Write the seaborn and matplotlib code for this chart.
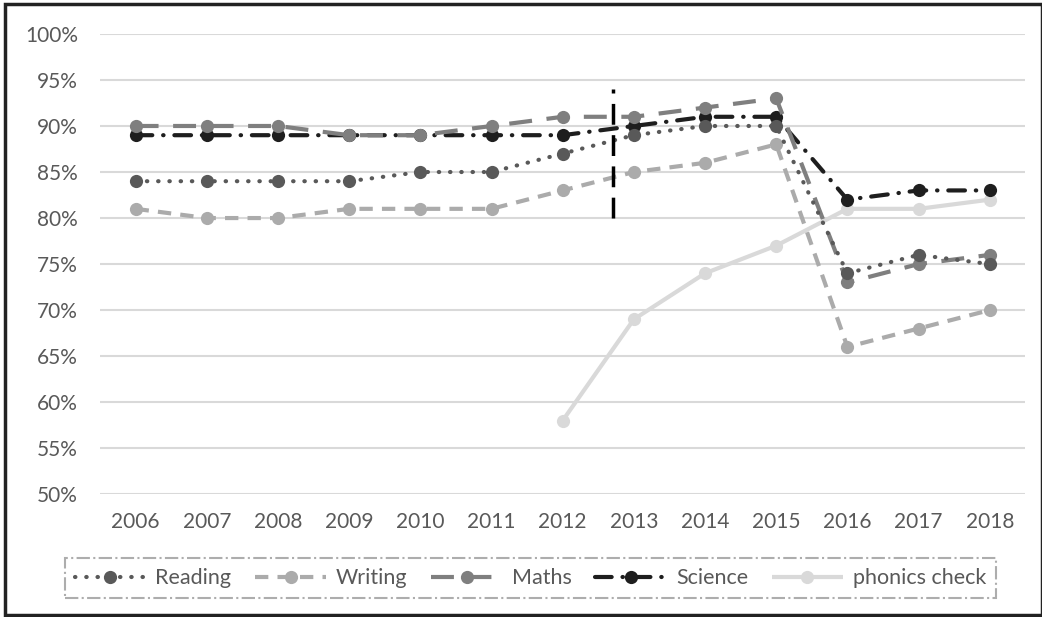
import matplotlib
matplotlib.use("Agg")
import matplotlib.pyplot as plt
import matplotlib.patches as mpatches
from matplotlib.ticker import FuncFormatter
import seaborn as sns
import numpy as np
import pandas as pd

years = [2006, 2007, 2008, 2009, 2010, 2011, 2012, 2013, 2014, 2015, 2016, 2017, 2018]
reading = [84, 84, 84, 84, 85, 85, 87, 89, 90, 90, 74, 76, 75]
writing = [81, 80, 80, 81, 81, 81, 83, 85, 86, 88, 66, 68, 70]
maths = [90, 90, 90, 89, 89, 90, 91, 91, 92, 93, 73, 75, 76]
science = [89, 89, 89, 89, 89, 89, 89, 90, 91, 91, 82, 83, 83]
phonics = [np.nan] * 6 + [58, 69, 74, 77, 81, 81, 82]

# marker for the change of curriculum, drawn between 2012 and 2013
divider_x = 2012.7
divider_low, divider_high = 80, 94

sns.set_style("white")
plt.rcParams['font.family'] = ['Lato', 'DejaVu Sans']

fig = plt.figure(figsize=(10.42, 6.17), dpi=100)
ax = fig.add_axes([0.096, 0.199, 0.888, 0.746])

series = [
    ("Reading", reading, "#595959", (0.1, 2.6), "round"),
    ("Writing", writing, "#ababab", (3.2, 2.2), "butt"),
    ("Maths", maths, "#7f7f7f", (5.5, 3.5), "butt"),
    ("Science", science, "#1e1e1e", (4, 2.6, 0.1, 2.6), "round"),
    ("phonics check", phonics, "#d9d9d9", None, "butt"),
]

# draw in reverse so reading/writing sit on top like the original
for name, vals, col, dash, cap in reversed(series):
    df = pd.DataFrame({"year": years, "value": vals})
    sns.lineplot(data=df, x="year", y="value", ax=ax, color=col,
                 linewidth=3, marker="o", markersize=9.5,
                 markeredgewidth=0, label=name)
    l = ax.get_lines()[-1]
    if dash is not None:
        l.set_dashes(dash)
    l.set_dash_capstyle(cap)
    l.set_solid_capstyle("butt")

ax.vlines(divider_x, divider_low, divider_high, colors="black",
          linewidth=2.5, linestyles=(0, (6, 3)))

ax.set_xlim(2005.5, 2018.5)
ax.set_ylim(50, 100)
ax.set_xticks(years)
ax.set_xticklabels([str(y) for y in years])
ax.set_yticks(range(50, 101, 5))
ax.yaxis.set_major_formatter(FuncFormatter(lambda v, p: f"{int(v)}%"))
ax.grid(axis="y", color="#d9d9d9", linewidth=1.5)
ax.set_axisbelow(True)
for s in ax.spines.values():
    s.set_visible(False)
ax.set_xlabel("")
ax.set_ylabel("")
ax.tick_params(axis="both", labelsize=15, colors="#595959", length=0)
ax.tick_params(axis="x", pad=13)
ax.tick_params(axis="y", pad=16)

handles, labels = ax.get_legend_handles_labels()
order = [labels.index(s[0]) for s in series]
ax.get_legend().remove()
leg = fig.legend([handles[i] for i in order], [labels[i] for i in order],
                 loc="center", bbox_to_anchor=(0.509, 0.063), ncol=5,
                 fontsize=15.5, handlelength=3.3, handletextpad=0.45,
                 columnspacing=1.1, fancybox=False, frameon=True,
                 borderpad=0.45)
fr = leg.get_frame()
fr.set_edgecolor("#999999")
fr.set_linestyle("-.")
fr.set_linewidth(1.5)
for t in leg.get_texts():
    t.set_color("#595959")

fig.patches.append(mpatches.Rectangle((0.005, 0.003), 0.995, 0.99, transform=fig.transFigure,
                                      fill=False, edgecolor="#222222", linewidth=2.5))

fig.savefig("out.png", dpi=100)
